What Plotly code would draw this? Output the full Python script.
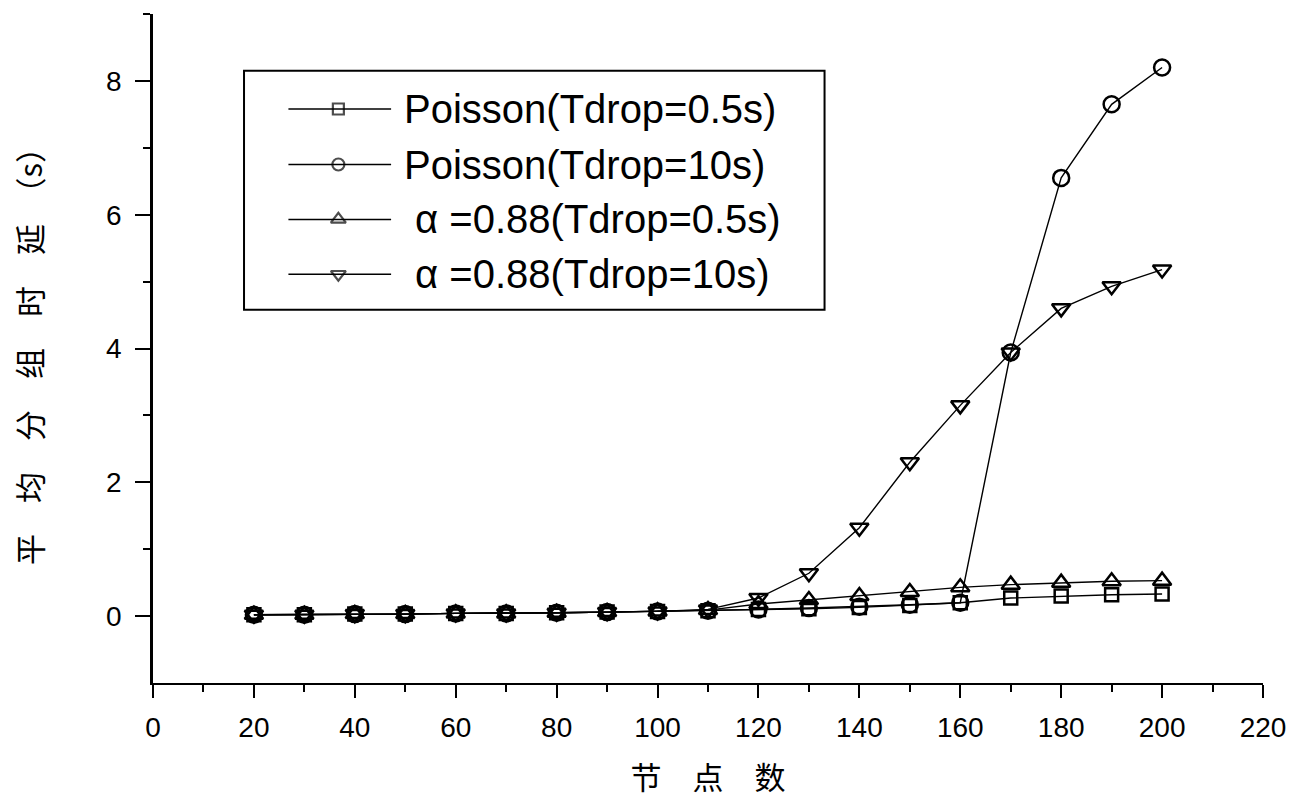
import plotly.graph_objects as go

# Number of nodes
nodes = [20, 30, 40, 50, 60, 70, 80, 90, 100, 110,
         120, 130, 140, 150, 160, 170, 180, 190, 200]

# Mean packet delay (s) for each traffic model / drop timeout
poisson_t05 = [0.02, 0.02, 0.03, 0.03, 0.04, 0.04, 0.05, 0.06, 0.07, 0.08,
               0.10, 0.11, 0.13, 0.16, 0.20, 0.27, 0.30, 0.32, 0.33]
poisson_t10 = [0.02, 0.02, 0.03, 0.03, 0.04, 0.04, 0.05, 0.06, 0.07, 0.08,
               0.10, 0.12, 0.14, 0.17, 0.20, 3.94, 6.55, 7.65, 8.20]
alpha_t05 = [0.02, 0.02, 0.03, 0.03, 0.04, 0.04, 0.05, 0.06, 0.07, 0.09,
             0.18, 0.24, 0.30, 0.36, 0.43, 0.47, 0.50, 0.52, 0.53]
alpha_t10 = [0.02, 0.02, 0.03, 0.03, 0.04, 0.04, 0.05, 0.06, 0.07, 0.10,
             0.27, 0.64, 1.32, 2.30, 3.15, 3.94, 4.60, 4.93, 5.18]

series_names = ["Poisson(Tdrop=0.5s)", "Poisson(Tdrop=10s)",
                " α =0.88(Tdrop=0.5s)", " α =0.88(Tdrop=10s)"]
series_values = [poisson_t05, poisson_t10, alpha_t05, alpha_t10]
symbols = ["square-open", "circle-open", "triangle-up-open", "triangle-down-open"]
marker_sizes = [13, 16, 16, 16]
legend_marker_sizes = [11, 12, 13, 13]

x_title = "　节　点　数"
y_title = "　平　均　分　组　时　延　（s）"

TICK_FONT = dict(family="Arial, Liberation Sans, sans-serif", size=28, color="black")
CJK_FONT = dict(family="Noto Sans CJK SC, sans-serif", size=31, color="black")
LEGEND_FONT = dict(family="Arial, Liberation Sans, sans-serif", size=40, color="black")

fig = go.Figure()

for name, vals, sym, ms in zip(series_names, series_values, symbols, marker_sizes):
    fig.add_trace(go.Scatter(
        x=nodes, y=vals, name=name, mode="lines+markers",
        line=dict(color="black", width=1.4),
        marker=dict(symbol=sym, size=ms, color="black", line=dict(width=2.5, color="black")),
        showlegend=False,
    ))

# Boxed legend drawn in plot-area (paper) coordinates
legend_box = dict(x0=0.082, x1=0.605, y0=0.558, y1=0.915)
legend_rows = [0.858, 0.775, 0.693, 0.611]
sample_x0, sample_x1, sample_mid = 0.122, 0.2145, 0.167
text_x = 0.2245

fig.add_shape(type="rect", xref="paper", yref="paper",
              x0=legend_box["x0"], x1=legend_box["x1"],
              y0=legend_box["y0"], y1=legend_box["y1"],
              line=dict(color="black", width=2), fillcolor="white", layer="below")

for name, ry in zip(series_names, legend_rows):
    fig.add_shape(type="line", xref="paper", yref="paper",
                  x0=sample_x0, x1=sample_x1, y0=ry, y1=ry,
                  line=dict(color="black", width=1.5))
    fig.add_annotation(xref="paper", yref="paper", x=text_x, y=ry,
                       text=name, showarrow=False, xanchor="left", yanchor="middle",
                       font=LEGEND_FONT)

fig.add_trace(go.Scatter(
    x=[sample_mid] * 4, y=legend_rows, mode="markers",
    marker=dict(symbol=symbols, size=legend_marker_sizes, color="black",
                line=dict(width=2.2, color="black")),
    xaxis="x2", yaxis="y2", showlegend=False, hoverinfo="skip",
))

fig.update_layout(
    width=1298, height=808,
    margin=dict(l=153, r=26, t=14, b=125),
    paper_bgcolor="white", plot_bgcolor="white",
    showlegend=False,
    xaxis=dict(
        range=[0, 220], tickmode="linear", tick0=0, dtick=20,
        ticks="outside", ticklen=13, tickwidth=1.5, tickcolor="black",
        minor=dict(dtick=10, tick0=0, ticks="outside", ticklen=7, tickwidth=1.5, tickcolor="black"),
        showline=True, linecolor="black", linewidth=2,
        showgrid=False, zeroline=False,
        tickfont=TICK_FONT, ticklabelstandoff=5,
        title=dict(text=x_title, font=CJK_FONT, standoff=26),
    ),
    yaxis=dict(
        range=[-1, 9], tickmode="array", tickvals=[0, 2, 4, 6, 8],
        ticks="outside", ticklen=15, tickwidth=1.5, tickcolor="black",
        minor=dict(tickvals=[1, 3, 5, 7, 9], ticks="outside", ticklen=7, tickwidth=1.5, tickcolor="black"),
        showline=True, linecolor="black", linewidth=2.5,
        showgrid=False, zeroline=False,
        tickfont=TICK_FONT, ticklabelstandoff=8,
        title=dict(text=y_title, font=CJK_FONT, standoff=55),
    ),
    xaxis2=dict(overlaying="x", range=[0, 1], visible=False),
    yaxis2=dict(overlaying="y", range=[0, 1], visible=False),
)

fig.write_html("out.html")
